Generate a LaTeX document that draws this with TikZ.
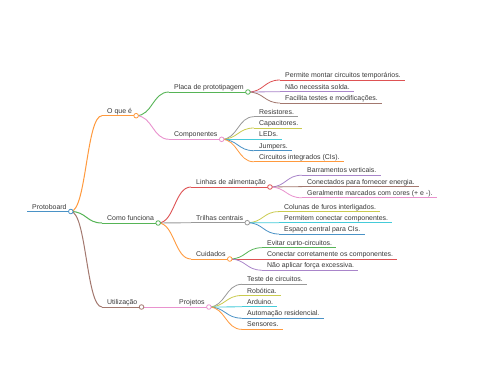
\documentclass[tikz,border=0pt]{standalone}
\usepackage{fontspec}
\setmainfont{Liberation Sans}
\usetikzlibrary{calc}
\definecolor{cblue}{HTML}{4A92C6}
\definecolor{corange}{HTML}{FF9A3E}
\definecolor{cgreen}{HTML}{56B456}
\definecolor{cred}{HTML}{DE5253}
\definecolor{cpurple}{HTML}{A985CA}
\definecolor{cbrown}{HTML}{A3786F}
\definecolor{cpink}{HTML}{E992CE}
\definecolor{cgray}{HTML}{999999}
\definecolor{colive}{HTML}{CACB4E}
\definecolor{ccyan}{HTML}{45CBD9}
\newcommand\mmfont{\fontsize{6.95pt}{8pt}\selectfont}
% name, color, text x, line y, text, line width
\newcommand\mmnode[6]{%
  \node[txt] (#1) at (#3,#4-2.5) {#5};
  \coordinate (#1s) at (#3-5,#4);
  \coordinate (#1e) at ($(#1.base east)+(4,2.5)$);
  \draw[color=#2, line width=#6] (#1s) -- (#1e);
}
% from, to, color, width
\newcommand\mmlink[4]{%
  \draw[color=#3, line width=#4] let \p1=(#1), \p2=(#2) in
    (\p1) .. controls ({(\x1+\x2)/2},\y1) and ({(\x1+\x2)/2},\y2) .. (\p2);
}
\newcommand\mmdot[2]{\node[dot, draw=#2] (#1c) at (#1e) {};}
\begin{document}
\begin{tikzpicture}[x=1pt,y=-1pt,
  txt/.style={font=\mmfont, text=black!78, inner sep=0pt, anchor=base west},
  dot/.style={circle, fill=white, line width=0.8pt, minimum size=4.6pt, inner sep=0pt}]
\useasboundingbox[fill=white] (0,0) rectangle (480,384);
% root
\mmnode{root}{cblue}{32}{211.5}{Protoboard}{1.5pt}
% level 1
\mmnode{oque}{corange}{107}{115.7}{O que é}{1pt}
\mmnode{como}{cgreen}{107}{223}{Como funciona}{1pt}
\mmnode{util}{cbrown}{107}{307}{Utilização}{1pt}
% level 2
\mmnode{placa}{cgreen}{174}{92}{Placa de prototipagem}{0.9pt}
\mmnode{comp}{cpink}{174}{139.3}{Componentes}{0.9pt}
\mmnode{linhas}{cred}{196}{187}{Linhas de alimentação}{0.9pt}
\mmnode{trilhas}{cgray}{196}{222.7}{Trilhas centrais}{0.9pt}
\mmnode{cuid}{corange}{196}{259}{Cuidados}{0.9pt}
\mmnode{proj}{cpink}{179}{307}{Projetos}{0.9pt}
% leaves
\mmnode{pa}{cred}{285}{80}{Permite montar circuitos temporários.}{0.8pt}
\mmnode{pb}{cpurple}{285}{91.7}{Não necessita solda.}{0.8pt}
\mmnode{pc}{cbrown}{285}{103}{Facilita testes e modificações.}{0.8pt}
\mmnode{ca}{cgray}{259}{116.7}{Resistores.}{0.8pt}
\mmnode{cb}{colive}{259}{128}{Capacitores.}{0.8pt}
\mmnode{cc}{ccyan}{259}{139.3}{LEDs.}{0.8pt}
\mmnode{cd}{cblue}{259}{150.7}{Jumpers.}{0.8pt}
\mmnode{ce}{corange}{259}{161.8}{Circuitos integrados (CIs).}{0.8pt}
\mmnode{la}{cpurple}{307}{175.2}{Barramentos verticais.}{0.8pt}
\mmnode{lb}{cbrown}{307}{186.6}{Conectados para fornecer energia.}{0.8pt}
\mmnode{lc}{cpink}{307}{197.8}{Geralmente marcados com cores (+ e -).}{0.8pt}
\mmnode{ta}{colive}{284}{211.6}{Colunas de furos interligados.}{0.8pt}
\mmnode{tb}{ccyan}{284}{222.8}{Permitem conectar componentes.}{0.8pt}
\mmnode{tc}{cblue}{284}{234}{Espaço central para CIs.}{0.8pt}
\mmnode{ua}{cgreen}{267}{247.7}{Evitar curto-circuitos.}{0.8pt}
\mmnode{ub}{cred}{267}{259}{Conectar corretamente os componentes.}{0.8pt}
\mmnode{uc}{cpurple}{267}{270.2}{Não aplicar força excessiva.}{0.8pt}
\mmnode{ja}{cgray}{247}{284.3}{Teste de circuitos.}{0.8pt}
\mmnode{jb}{colive}{247}{295.5}{Robótica.}{0.8pt}
\mmnode{jc}{ccyan}{247}{306.8}{Arduino.}{0.8pt}
\mmnode{jd}{cblue}{247}{318.2}{Automação residencial.}{0.8pt}
\mmnode{je}{corange}{247}{329.4}{Sensores.}{0.8pt}
% links
\mmlink{roote}{oques}{corange}{1pt}
\mmlink{roote}{comos}{cgreen}{1pt}
\mmlink{roote}{utils}{cbrown}{1pt}
\mmlink{oquee}{placas}{cgreen}{0.9pt}
\mmlink{oquee}{comps}{cpink}{0.9pt}
\mmlink{comoe}{linhass}{cred}{0.9pt}
\mmlink{comoe}{trilhass}{cgray}{0.9pt}
\mmlink{comoe}{cuids}{corange}{0.9pt}
\mmlink{utile}{projs}{cpink}{0.9pt}
\mmlink{placae}{pas}{cred}{0.8pt}
\mmlink{placae}{pbs}{cpurple}{0.8pt}
\mmlink{placae}{pcs}{cbrown}{0.8pt}
\mmlink{compe}{cas}{cgray}{0.8pt}
\mmlink{compe}{cbs}{colive}{0.8pt}
\mmlink{compe}{ccs}{ccyan}{0.8pt}
\mmlink{compe}{cds}{cblue}{0.8pt}
\mmlink{compe}{ces}{corange}{0.8pt}
\mmlink{linhase}{las}{cpurple}{0.8pt}
\mmlink{linhase}{lbs}{cbrown}{0.8pt}
\mmlink{linhase}{lcs}{cpink}{0.8pt}
\mmlink{trilhase}{tas}{colive}{0.8pt}
\mmlink{trilhase}{tbs}{ccyan}{0.8pt}
\mmlink{trilhase}{tcs}{cblue}{0.8pt}
\mmlink{cuide}{uas}{cgreen}{0.8pt}
\mmlink{cuide}{ubs}{cred}{0.8pt}
\mmlink{cuide}{ucs}{cpurple}{0.8pt}
\mmlink{proje}{jas}{cgray}{0.8pt}
\mmlink{proje}{jbs}{colive}{0.8pt}
\mmlink{proje}{jcs}{ccyan}{0.8pt}
\mmlink{proje}{jds}{cblue}{0.8pt}
\mmlink{proje}{jes}{corange}{0.8pt}
% circles
\mmdot{root}{cblue}
\mmdot{oque}{corange}
\mmdot{como}{cgreen}
\mmdot{util}{cbrown}
\mmdot{placa}{cgreen}
\mmdot{comp}{cpink}
\mmdot{linhas}{cred}
\mmdot{trilhas}{cgray}
\mmdot{cuid}{corange}
\mmdot{proj}{cpink}
\end{tikzpicture}
\end{document}
